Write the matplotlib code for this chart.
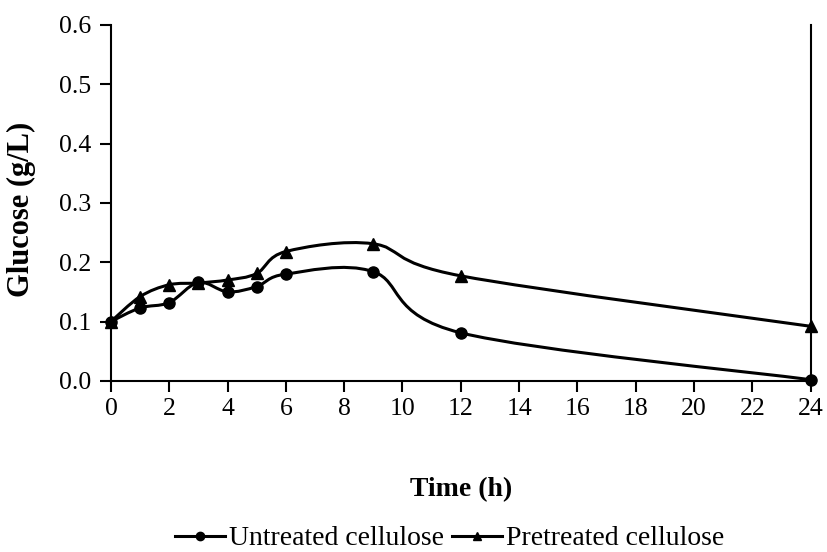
import matplotlib.pyplot as plt
import numpy as np
from matplotlib.path import Path
from matplotlib.patches import PathPatch
from matplotlib.lines import Line2D

plt.rcParams['font.family'] = ['Liberation Serif', 'DejaVu Serif']

# Dane
time_h = [0, 1, 2, 3, 4, 5, 6, 9, 12, 24]
untreated = [0.100, 0.123, 0.132, 0.166, 0.150, 0.159, 0.180, 0.184, 0.081, 0.002]
pretreated = [0.100, 0.142, 0.162, 0.165, 0.170, 0.181, 0.218, 0.231, 0.177, 0.092]

x_ticks = list(range(0, 25, 2))
y_ticks = [0.0, 0.1, 0.2, 0.3, 0.4, 0.5, 0.6]


def smooth_path(x, y):
    # wygladzona linia jak w Excelu (krzywe Beziera przez punkty)
    pts = np.column_stack([x, y]).astype(float)
    n = len(pts)
    verts = [pts[0]]
    codes = [Path.MOVETO]
    for i in range(n - 1):
        p0 = pts[i - 1] if i > 0 else pts[i]
        p1 = pts[i]
        p2 = pts[i + 1]
        p3 = pts[i + 2] if i + 2 < n else pts[i + 1]
        c1 = p1 + (p2 - p0) / 6.0
        c2 = p2 - (p3 - p1) / 6.0
        verts += [c1, c2, p2]
        codes += [Path.CURVE4] * 3
    return Path(verts, codes)


fig = plt.figure(figsize=(8.28, 5.52), dpi=100)
ax = fig.add_axes([0.134, 0.31, 0.845, 0.645])

for vals, mk in [(untreated, 'o'), (pretreated, '^')]:
    ax.add_patch(PathPatch(smooth_path(time_h, vals), facecolor='none',
                           edgecolor='black', lw=2.2, zorder=2))
    ax.plot(time_h, vals, linestyle='none', marker=mk, color='black',
            markersize=8, zorder=3, clip_on=False)

ax.set_xlim(0, 24)
ax.set_ylim(0, 0.6)
ax.set_xticks(x_ticks)
ax.set_yticks(y_ticks)
ax.set_yticklabels([f'{v:.1f}' for v in y_ticks])
ax.tick_params(axis='both', direction='out', length=8, width=1.5,
               labelsize=18.5)
ax.tick_params(axis='x', pad=4)
ax.tick_params(axis='y', pad=6)
ax.spines['top'].set_visible(False)
for s in ['left', 'bottom', 'right']:
    ax.spines[s].set_linewidth(1.5)

ax.set_xlabel('Time (h)', fontsize=20, fontweight='bold')
ax.set_ylabel('Glucose (g/L)', fontsize=22, fontweight='bold')
ax.xaxis.set_label_coords(0.5, -0.27)
ax.yaxis.set_label_coords(-0.107, 0.483)

handles = [
    Line2D([], [], color='black', lw=2.2, marker='o', markersize=6),
    Line2D([], [], color='black', lw=2.2, marker='^', markersize=6),
]
fig.legend(handles, ['Untreated cellulose', 'Pretreated cellulose'],
           loc='center', bbox_to_anchor=(0.543, 0.024), ncol=2, frameon=False,
           fontsize=20, handlelength=1.8, handletextpad=0.15, columnspacing=0.3)

fig.savefig('out.png', dpi=100)
